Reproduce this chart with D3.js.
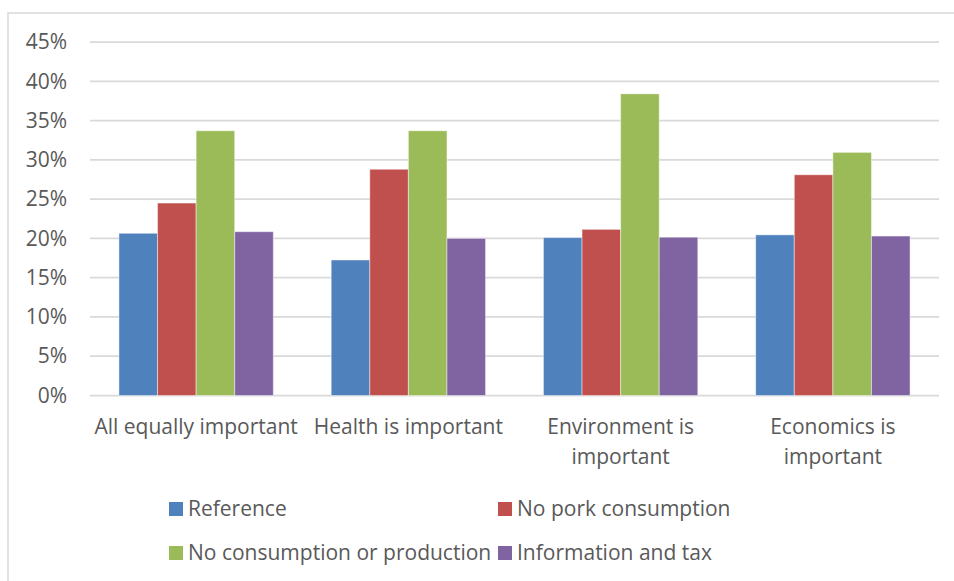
<!DOCTYPE html>
<html>
<head>
<meta charset="utf-8">
<script src="https://cdn.jsdelivr.net/npm/d3@7"></script>
<style>
  body { margin: 0; background: #fff; }
  svg { display: block; }
</style>
</head>
<body>
<div id="wrapper"></div>
<script>
// categories and their wrapped tick labels
const categories = ['All equally important', 'Health is important', 'Environment is important', 'Economics is important'];
const categoryLines = [['All equally important'], ['Health is important'], ['Environment is', 'important'], ['Economics is', 'important']];

const seriesNames = ['Reference', 'No pork consumption', 'No consumption or production', 'Information and tax'];
const seriesColors = ['#4F81BD', '#C0504D', '#9BBB59', '#8064A2'];

// shares per category, one array per series
const reference = [0.2065, 0.1725, 0.201, 0.2045];
const noPork = [0.245, 0.288, 0.2115, 0.281];
const noConsumption = [0.337, 0.337, 0.384, 0.3095];
const infoTax = [0.2085, 0.200, 0.2015, 0.203];

const yTicks = [0, 0.05, 0.10, 0.15, 0.20, 0.25, 0.30, 0.35, 0.40, 0.45];

const fontFamily = '"Open Sans", Lato, sans-serif';
const fontSize = '21px';

function drawChart() {
	const series = [reference, noPork, noConsumption, infoTax];

	const dimensions = {
		width: 954,
		height: 581,
		margin: { top: 42, right: 15, bottom: 185.5, left: 90 },
	};
	dimensions.boundedWidth = dimensions.width - dimensions.margin.left - dimensions.margin.right;
	dimensions.boundedHeight = dimensions.height - dimensions.margin.top - dimensions.margin.bottom;

	const svg = d3.select('#wrapper')
		.append('svg')
		.attr('width', dimensions.width)
		.attr('height', dimensions.height)
		.style('font-family', fontFamily);

	// outer chart frame
	svg.append('rect')
		.attr('x', 8)
		.attr('y', 13)
		.attr('width', 1000)
		.attr('height', 1000)
		.attr('fill', 'none')
		.attr('stroke', '#d9d9d9')
		.attr('stroke-width', 1.5);

	const bounds = svg.append('g')
		.attr('transform', `translate(${dimensions.margin.left}, ${dimensions.margin.top})`);

	const xScale = d3.scaleBand()
		.domain(categories)
		.range([0, dimensions.boundedWidth])
		.paddingInner(1.5 / 5.5)
		.paddingOuter(0.75 / 5.5);

	const xInner = d3.scaleBand()
		.domain(d3.range(seriesNames.length))
		.range([0, xScale.bandwidth()]);

	const yScale = d3.scaleLinear()
		.domain([0, 0.45])
		.range([dimensions.boundedHeight, 0]);

	// gridlines
	bounds.append('g')
		.selectAll('line')
		.data(yTicks)
		.enter().append('line')
		.attr('x1', 0)
		.attr('x2', dimensions.boundedWidth)
		.attr('y1', d => yScale(d))
		.attr('y2', d => yScale(d))
		.attr('stroke', '#d9d9d9')
		.attr('stroke-width', 1.75);

	// y axis labels
	const yAxis = bounds.append('g')
		.call(d3.axisLeft(yScale).tickValues(yTicks).tickFormat(d3.format('.0%')).tickSize(0).tickPadding(23));
	yAxis.select('.domain').remove();
	yAxis.selectAll('text')
		.attr('fill', '#595959')
		.style('font-size', fontSize)
		.style('font-family', fontFamily);

	// bars
	const groups = bounds.append('g')
		.selectAll('g')
		.data(categories)
		.enter().append('g')
		.attr('transform', d => `translate(${xScale(d)}, 0)`);

	groups.selectAll('rect')
		.data((d, i) => series.map((s, j) => ({ value: s[i], series: j })))
		.enter().append('rect')
		.attr('x', d => xInner(d.series))
		.attr('y', d => yScale(d.value))
		.attr('width', xInner.bandwidth())
		.attr('height', d => dimensions.boundedHeight - yScale(d.value))
		.attr('fill', d => seriesColors[d.series])
		.attr('stroke', '#ffffff')
		.attr('stroke-opacity', 0.45)
		.attr('stroke-width', 1);

	// x axis labels
	const xAxis = bounds.append('g')
		.attr('transform', `translate(0, ${dimensions.boundedHeight})`)
		.call(d3.axisBottom(xScale).tickSize(0).tickFormat(''));
	xAxis.select('.domain').remove();
	xAxis.selectAll('.tick').each(function (d, i) {
		const text = d3.select(this).append('text')
			.attr('fill', '#595959')
			.attr('text-anchor', 'middle')
			.style('font-size', fontSize)
			.style('font-family', fontFamily);
		categoryLines[i].forEach((line, k) => {
			text.append('tspan')
				.attr('x', 0)
				.attr('y', 38 + k * 30)
				.text(line);
		});
	});

	// legend, 2 columns x 2 rows
	const legendX = [169, 498];
	const legendY = [509, 553];
	const legend = svg.append('g')
		.selectAll('g')
		.data(seriesNames)
		.enter().append('g')
		.attr('transform', (d, i) => `translate(${legendX[i % 2]}, ${legendY[Math.floor(i / 2)]})`);

	legend.append('rect')
		.attr('x', 0)
		.attr('y', -7)
		.attr('width', 14)
		.attr('height', 14)
		.attr('fill', (d, i) => seriesColors[i]);

	legend.append('text')
		.attr('x', 19)
		.attr('y', 0)
		.attr('dy', '0.35em')
		.attr('fill', '#595959')
		.style('font-size', fontSize)
		.text(d => d);
}

drawChart();
</script>
</body>
</html>
